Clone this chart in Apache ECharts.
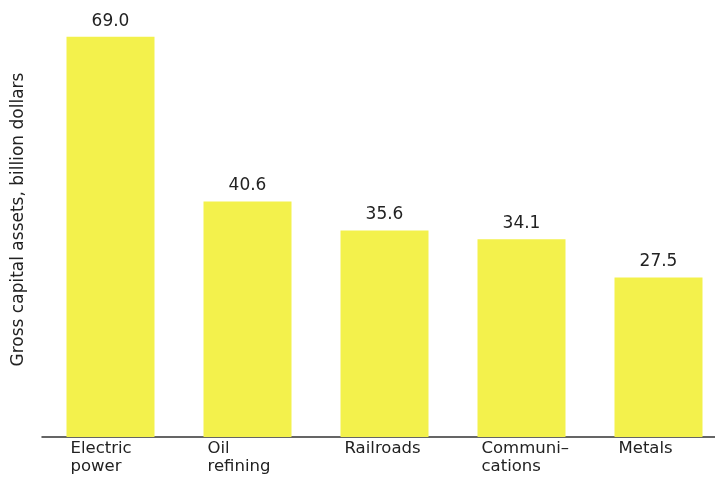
<!DOCTYPE html>
<html><head><meta charset="utf-8">
<script src="https://cdn.jsdelivr.net/npm/echarts@6/dist/echarts.min.js"></script>
<style>html,body{margin:0;padding:0;background:#fff}#c{width:715px;height:479px}</style>
</head><body><div id="c"></div>
<script>
var categories = ["Electric\npower", "Oil\nrefining", "Railroads", "Communi\u2013\ncations", "Metals"];
var values = [69.0, 40.6, 35.6, 34.1, 27.5];
var yAxisTitle = "Gross capital assets, billion dollars";

var chart = echarts.init(document.getElementById('c'));
chart.setOption({
  animation: false,
  textStyle: {fontFamily: 'DejaVu Sans, sans-serif'},
  grid: {left: 42, right: -12, top: 2, bottom: 42, containLabel: false, outerBoundsMode: 'none'},
  xAxis: {
    type: 'category', data: categories,
    axisLine: {lineStyle: {color: '#333', width: 1.5}},
    axisTick: {show: false},
    axisLabel: {
      interval: 0, hideOverlap: false,
      color: '#222', fontSize: 16, lineHeight: 18, margin: 3,
      formatter: function(v){ return v.split('\n').map(function(s){ return '{a|' + s + '}'; }).join('\n'); },
      rich: {a: {width: 80, align: 'left', color: '#222', fontSize: 16.5, lineHeight: 18}}
    }
  },
  yAxis: {
    type: 'value', min: 0, max: 75,
    axisLine: {show: false}, axisTick: {show: false}, axisLabel: {show: false}, splitLine: {show: false},
    name: yAxisTitle, nameLocation: 'middle', nameGap: 15,
    nameTextStyle: {color: '#222', fontSize: 17}
  },
  series: [{
    type: 'bar', data: values, barWidth: 88,
    itemStyle: {color: '#f3f14c'},
    label: {show: true, position: 'top', distance: 7, color: '#222', fontSize: 17,
      formatter: function(p){ return p.value.toFixed(1); }}
  }]
});
</script></body></html>
